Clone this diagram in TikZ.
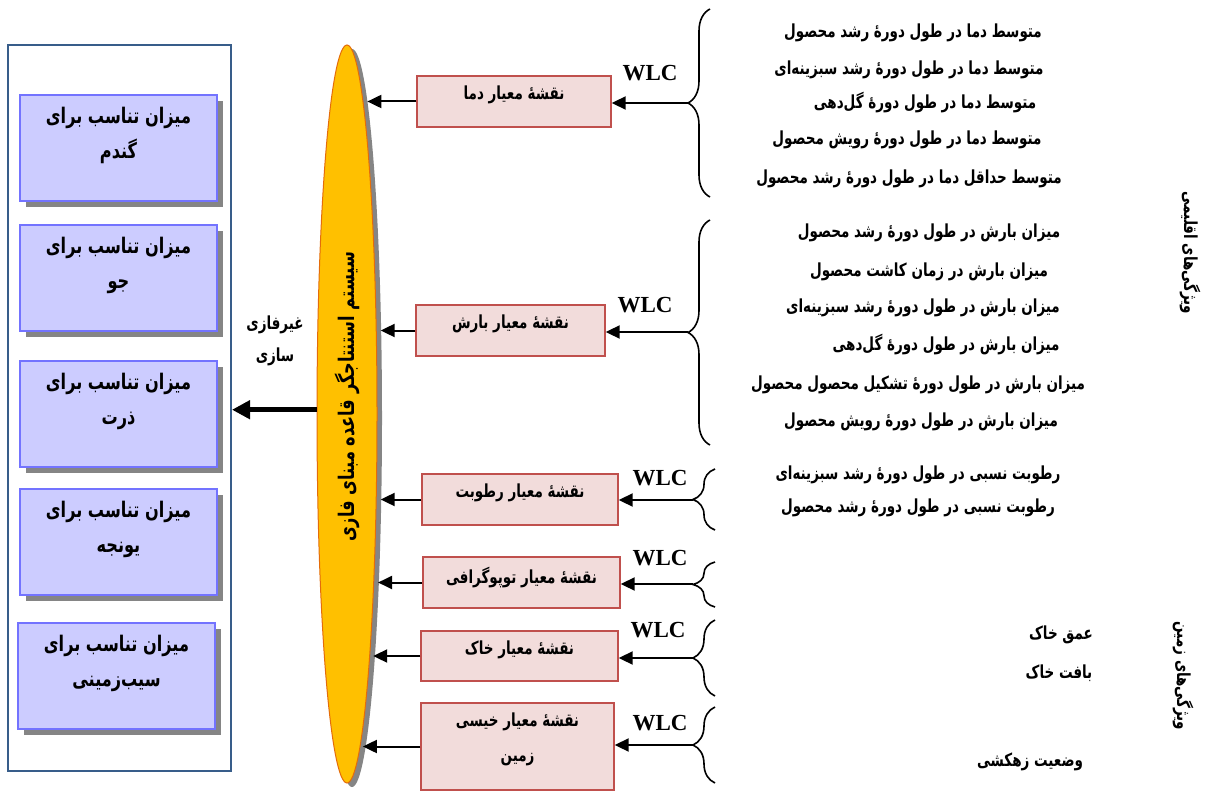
\documentclass[tikz,border=0pt]{standalone}
\usepackage{fontspec}
\usetikzlibrary{shapes.geometric,arrows.meta,shadows,decorations.pathreplacing}
\TeXXeTstate=1
\newfontfamily\farsi[Script=Arabic,FakeStretch=0.75]{DejaVu Sans}
\newfontfamily\wlcfont{Liberation Serif}
\definecolor{lavfill}{HTML}{CCCCFF}
\definecolor{lavline}{HTML}{7373FF}
\definecolor{mapfill}{HTML}{F2DCDB}
\definecolor{mapline}{HTML}{C0504D}
\definecolor{fisfill}{HTML}{FFC000}
\definecolor{fisline}{HTML}{E46C0A}
\definecolor{frameline}{HTML}{385D8A}
\definecolor{shade}{HTML}{858585}

\begin{document}
\begin{tikzpicture}[x=1pt,y=-1pt,
  fa/.style={font=\farsi\bfseries\fontsize{18}{20}\selectfont},
  crop/.style={draw=lavline,fill=lavfill,line width=1.8pt,minimum width=197pt,minimum height=106pt,inner sep=0pt,
    drop shadow={shadow xshift=6pt,shadow yshift=-6pt,fill=shade,opacity=1},
    label={[font=\farsi\bfseries\fontsize{21.5}{35}\selectfont,align=center,anchor=north,yshift=-10pt]north:#1}},
  map/.style={draw=mapline,fill=mapfill,line width=1.4pt,inner sep=0pt,
    label={[font=\farsi\bfseries\fontsize{18}{35}\selectfont,align=center,anchor=north,yshift=-7pt]north:#1}},
  fis/.style={ellipse,draw=fisline,fill=fisfill,line width=1pt,minimum width=60pt,minimum height=738pt,inner sep=0pt,
    drop shadow={shadow xshift=5pt,shadow yshift=-4pt,fill=shade,opacity=1}},
  wlc/.style={font=\wlcfont\bfseries\fontsize{23}{25}\selectfont},
  arr/.style={line width=2pt,-{Triangle[length=14pt,width=13pt]}},
  bigarr/.style={line width=5pt,-{Triangle[length=18pt,width=18pt]}},
  brc/.style={decorate,decoration={brace,amplitude=22pt},line width=1.6pt}]
\useasboundingbox (0,0) rectangle (1206,791);

% output: suitability maps
\node[draw=frameline,line width=2pt,minimum width=223pt,minimum height=726pt,inner sep=0pt] (frame) at (119.5,408) {};
\node[crop={\beginR میزان تناسب برای\endR\\\beginR گندم\endR}] (wheat) at (118.5,148) {};
\node[crop={\beginR میزان تناسب برای\endR\\\beginR جو\endR}] (barley) at (118.5,278) {};
\node[crop={\beginR میزان تناسب برای\endR\\\beginR ذرت\endR}] (maize) at (118.5,414) {};
\node[crop={\beginR میزان تناسب برای\endR\\\beginR یونجه\endR}] (alfalfa) at (118.5,542) {};
\node[crop={\beginR میزان تناسب برای\endR\\\beginR سیب^^^^200cزمینی\endR}] (potato) at (116.5,676) {};

% fuzzy inference system
\node[fis] (fis) at (347,414) {};
\node[font=\farsi\bfseries\fontsize{21.5}{22}\selectfont,rotate=90] (fistxt) at ([yshift=17pt]fis.center) {\beginR سیستم استنتاجگر قاعده مبنای فازی\endR};
\node[font=\farsi\bfseries\fontsize{18}{32}\selectfont,align=center] (defuz) at (275,341) {\beginR غیرفازی\endR\\\beginR سازی\endR};
\draw[bigarr] (fis.172) -- (fis.172 -| frame.east);

% criterion maps
\node[map={\beginR نقشه^^^^0654 معیار دما\endR},minimum width=194pt,minimum height=51pt] (temp) at (514,101.5) {};
\node[map={\beginR نقشه^^^^0654 معیار بارش\endR},minimum width=189pt,minimum height=51pt] (rain) at (510.5,330.5) {};
\node[map={\beginR نقشه^^^^0654 معیار رطوبت\endR},minimum width=196pt,minimum height=51pt] (humid) at (520,499.5) {};
\node[map={\beginR نقشه^^^^0654 معیار توپوگرافی\endR},minimum width=197pt,minimum height=51pt] (topo) at (521.5,582.5) {};
\node[map={\beginR نقشه^^^^0654 معیار خاک\endR},minimum width=197pt,minimum height=50pt] (soil) at (519.5,656) {};
\node[map={\beginR نقشه^^^^0654 معیار خیسی\endR\\\beginR زمین\endR},minimum width=193pt,minimum height=87pt] (twi) at (517.5,746.5) {};
\draw[arr,shorten >=4pt] (temp.west) -- (temp.west -| fis.87);
\draw[arr,shorten >=4pt] (rain.west) -- (rain.west -| fis.71);
\draw[arr,shorten >=4pt] (humid.west) -- (humid.west -| fis.289);
\draw[arr,shorten >=4pt] (topo.west) -- (topo.west -| fis.279);
\draw[arr,shorten >=4pt] (soil.west) -- (soil.west -| fis.275);
\draw[arr,shorten >=4pt] (twi.west) -- (twi.west -| fis.272);

% braces and WLC
\coordinate (tempTip) at (688,103);
\coordinate (rainTip) at (688,332);
\coordinate (humidTip) at (693,500);
\coordinate (topoTip) at (693,584);
\coordinate (soilTip) at (693,658);
\coordinate (twiTip) at (693,745);
\draw[brc] (710,197) -- (710,9);
\draw[brc] (710,445) -- (710,220);
\draw[brc] (715,530) -- (715,469);
\draw[brc] (715,607) -- (715,562);
\draw[brc] (715,696) -- (715,620);
\draw[brc] (715,783) -- (715,707);
\draw[arr] (tempTip) -- (tempTip -| temp.east);
\draw[arr] (rainTip) -- (rainTip -| rain.east);
\draw[arr] (humidTip) -- (humidTip -| humid.east);
\draw[arr] (topoTip) -- (topoTip -| topo.east);
\draw[arr] (soilTip) -- (soilTip -| soil.east);
\draw[arr] (twiTip) -- (twiTip -| twi.east);
\node[wlc] (wlc1) at (650,73) {WLC};
\node[wlc] (wlc2) at (645,305) {WLC};
\node[wlc] (wlc3) at (660,478) {WLC};
\node[wlc] (wlc4) at (660,558) {WLC};
\node[wlc] (wlc5) at (658,630) {WLC};
\node[wlc] (wlc6) at (660,723) {WLC};

% criteria
\node[fa] (t1) at (913,33) {\beginR متوسط دما در طول دوره^^^^0654 رشد محصول\endR};
\node[fa] (t2) at (909,70) {\beginR متوسط دما در طول دوره^^^^0654 رشد سبزینه^^^^200cای\endR};
\node[fa] (t3) at (925,103) {\beginR متوسط دما در طول دوره^^^^0654 گل^^^^200cدهی\endR};
\node[fa] (t4) at (907,140) {\beginR متوسط دما در طول دوره^^^^0654 رویش محصول\endR};
\node[fa] (t5) at (909,179) {\beginR متوسط حداقل دما در طول دوره^^^^0654 رشد محصول\endR};
\node[fa] (p1) at (929,233) {\beginR میزان بارش در طول دوره^^^^0654 رشد محصول\endR};
\node[fa] (p2) at (929,272) {\beginR میزان بارش در زمان کاشت محصول\endR};
\node[fa] (p3) at (923,308) {\beginR میزان بارش در طول دوره^^^^0654 رشد سبزینه^^^^200cای\endR};
\node[fa] (p4) at (946,345) {\beginR میزان بارش در طول دوره^^^^0654 گل^^^^200cدهی\endR};
\node[fa] (p5) at (918,385) {\beginR میزان بارش در طول دوره^^^^0654 تشکیل محصول محصول\endR};
\node[fa] (p6) at (921,422) {\beginR میزان بارش در طول دوره^^^^0654 رویش محصول\endR};
\node[fa] (h1) at (918,475) {\beginR رطوبت نسبی در طول دوره^^^^0654 رشد سبزینه^^^^200cای\endR};
\node[fa] (h2) at (918,508) {\beginR رطوبت نسبی در طول دوره^^^^0654 رشد محصول\endR};
\node[fa] (s1) at (1061,635) {\beginR عمق خاک\endR};
\node[fa] (s2) at (1059,673) {\beginR بافت خاک\endR};
\node[fa] (s3) at (1030,762) {\beginR وضعیت زهکشی\endR};
\node[fa,rotate=-90] (climate) at (1190,253) {\beginR ویژگی^^^^200cهای اقلیمی\endR};
\node[fa,rotate=-90] (land) at (1183,676) {\beginR ویژگی^^^^200cهای زمین\endR};
\end{tikzpicture}
\end{document}
